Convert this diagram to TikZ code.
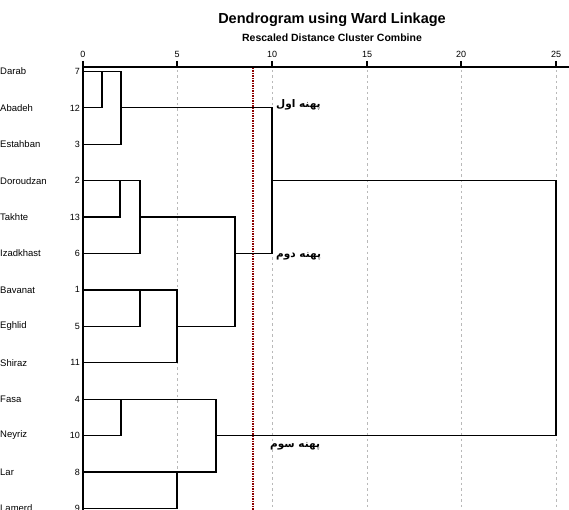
\documentclass[tikz,border=0pt]{standalone}
\usepackage{fontspec}
\setmainfont{Liberation Sans}
\newfontfamily\arabicfont[Script=Arabic]{DejaVu Sans}
\TeXXeTstate=1
\usetikzlibrary{positioning}

\begin{document}
\begin{tikzpicture}[
    x={(1pt,0pt)}, y={(0pt,-1pt)},
    title/.style={font=\bfseries\fontsize{14.5}{16}\selectfont, inner sep=0pt},
    subtitle/.style={font=\bfseries\fontsize{10.5}{12}\selectfont, inner sep=0pt},
    tick/.style={font=\fontsize{9}{10}\selectfont, inner sep=0pt},
    leaf/.style={font=\fontsize{9.5}{11}\selectfont, anchor=west, inner sep=0pt},
    case/.style={font=\fontsize{9}{10}\selectfont, anchor=east, inner sep=0pt},
    zone/.style={font=\arabicfont\bfseries\fontsize{10.5}{12}\selectfont, anchor=west, inner sep=0pt},
    link/.style={line width=1.2pt, line cap=rect},
    axis/.style={line width=2pt},
    guide/.style={gray!55, line width=0.7pt, dash pattern=on 2.5pt off 3pt},
    cut/.style={red!55!black, line width=1.3pt, dash pattern=on 1.5pt off 1pt}
]
\useasboundingbox (0,0) rectangle (569,510);
\clip (0,0) rectangle (569,510);

% Titles
\node[title] (title) at (332,20) {Dendrogram using Ward Linkage};
\node[subtitle] (subtitle) at (332,38) {Rescaled Distance Cluster Combine};

% Scale
\node[tick] (t0) at (83,54) {0};
\node[tick] (t5) at (177,54) {5};
\node[tick] (t10) at (272,54) {10};
\node[tick] (t15) at (367,54) {15};
\node[tick] (t20) at (461,54) {20};
\node[tick] (t25) at (556,54) {25};

% Guides
\draw[guide] (177,70) -- (177,510);
\draw[guide] (272,70) -- (272,510);
\draw[guide] (367,70) -- (367,510);
\draw[guide] (461,70) -- (461,510);
\draw[guide] (556,70) -- (556,510);
\draw[cut] (253,68) -- (253,510);

% Leaves
\node[leaf] (darab) at (0,71.5) {Darab};
\node[leaf] (abadeh) at (0,107.9) {Abadeh};
\node[leaf] (estahban) at (0,144.3) {Estahban};
\node[leaf] (doroudzan) at (0,180.7) {Doroudzan};
\node[leaf] (takhte) at (0,217.1) {Takhte};
\node[leaf] (izadkhast) at (0,253.5) {Izadkhast};
\node[leaf] (bavanat) at (0,289.9) {Bavanat};
\node[leaf] (eghlid) at (0,326.3) {Eghlid};
\node[leaf] (shiraz) at (0,362.7) {Shiraz};
\node[leaf] (fasa) at (0,399.1) {Fasa};
\node[leaf] (neyriz) at (0,435.5) {Neyriz};
\node[leaf] (lar) at (0,471.9) {Lar};
\node[leaf] (lamerd) at (0,508.3) {Lamerd};

\node[case] (c7) at (80,71.5) {7};
\node[case] (c12) at (80,107.9) {12};
\node[case] (c3) at (80,144.3) {3};
\node[case] (c2) at (80,180.7) {2};
\node[case] (c13) at (80,217.1) {13};
\node[case] (c6) at (80,253.5) {6};
\node[case] (c1) at (80,289.9) {1};
\node[case] (c5) at (80,326.3) {5};
\node[case] (c11) at (80,362.7) {11};
\node[case] (c4) at (80,399.1) {4};
\node[case] (c10) at (80,435.5) {10};
\node[case] (c8) at (80,471.9) {8};
\node[case] (c9) at (80,508.3) {9};

% Tree
\draw[link] (83,71.5) -- (121,71.5);
\draw[link] (83,107.9) -- (102,107.9) -- (102,71.5);
\draw[link] (83,144.3) -- (121,144.3) -- (121,71.5);
\draw[link] (121,107.9) -- (272,107.9);

\draw[link] (83,180.7) -- (140,180.7);
\draw[link] (83,217.1) -- (120,217.1) -- (120,180.7);
\draw[link] (83,253.5) -- (140,253.5) -- (140,180.7);
\draw[link] (140,217.1) -- (235,217.1);

\draw[link] (83,289.9) -- (177,289.9);
\draw[link] (83,326.3) -- (140,326.3) -- (140,289.9);
\draw[link] (83,362.7) -- (177,362.7) -- (177,289.9);
\draw[link] (177,326.3) -- (235,326.3) -- (235,217.1);
\draw[link] (235,253.5) -- (272,253.5) -- (272,107.9);
\draw[link] (272,180.7) -- (556,180.7);

\draw[link] (83,399.1) -- (216,399.1);
\draw[link] (83,435.5) -- (121,435.5) -- (121,399.1);
\draw[link] (83,471.9) -- (216,471.9) -- (216,399.1);
\draw[link] (83,508.3) -- (177,508.3) -- (177,471.9);
\draw[link] (216,435.5) -- (556,435.5) -- (556,180.7);

% Axes
\draw[axis] (83,67) -- (569,67);
\draw[axis] (83,61) -- (83,510);
\draw[axis] (177,61) -- (177,67);
\draw[axis] (272,61) -- (272,67);
\draw[axis] (367,61) -- (367,67);
\draw[axis] (461,61) -- (461,67);
\draw[axis] (556,61) -- (556,67);

% Zones
\node[zone] (zone1) at (276,105) {\beginR پهنه اول\endR};
\node[zone] (zone2) at (276,256) {\beginR پهنه دوم\endR};
\node[zone] (zone3) at (270,446) {\beginR پهنه سوم\endR};

\end{tikzpicture}
\end{document}
